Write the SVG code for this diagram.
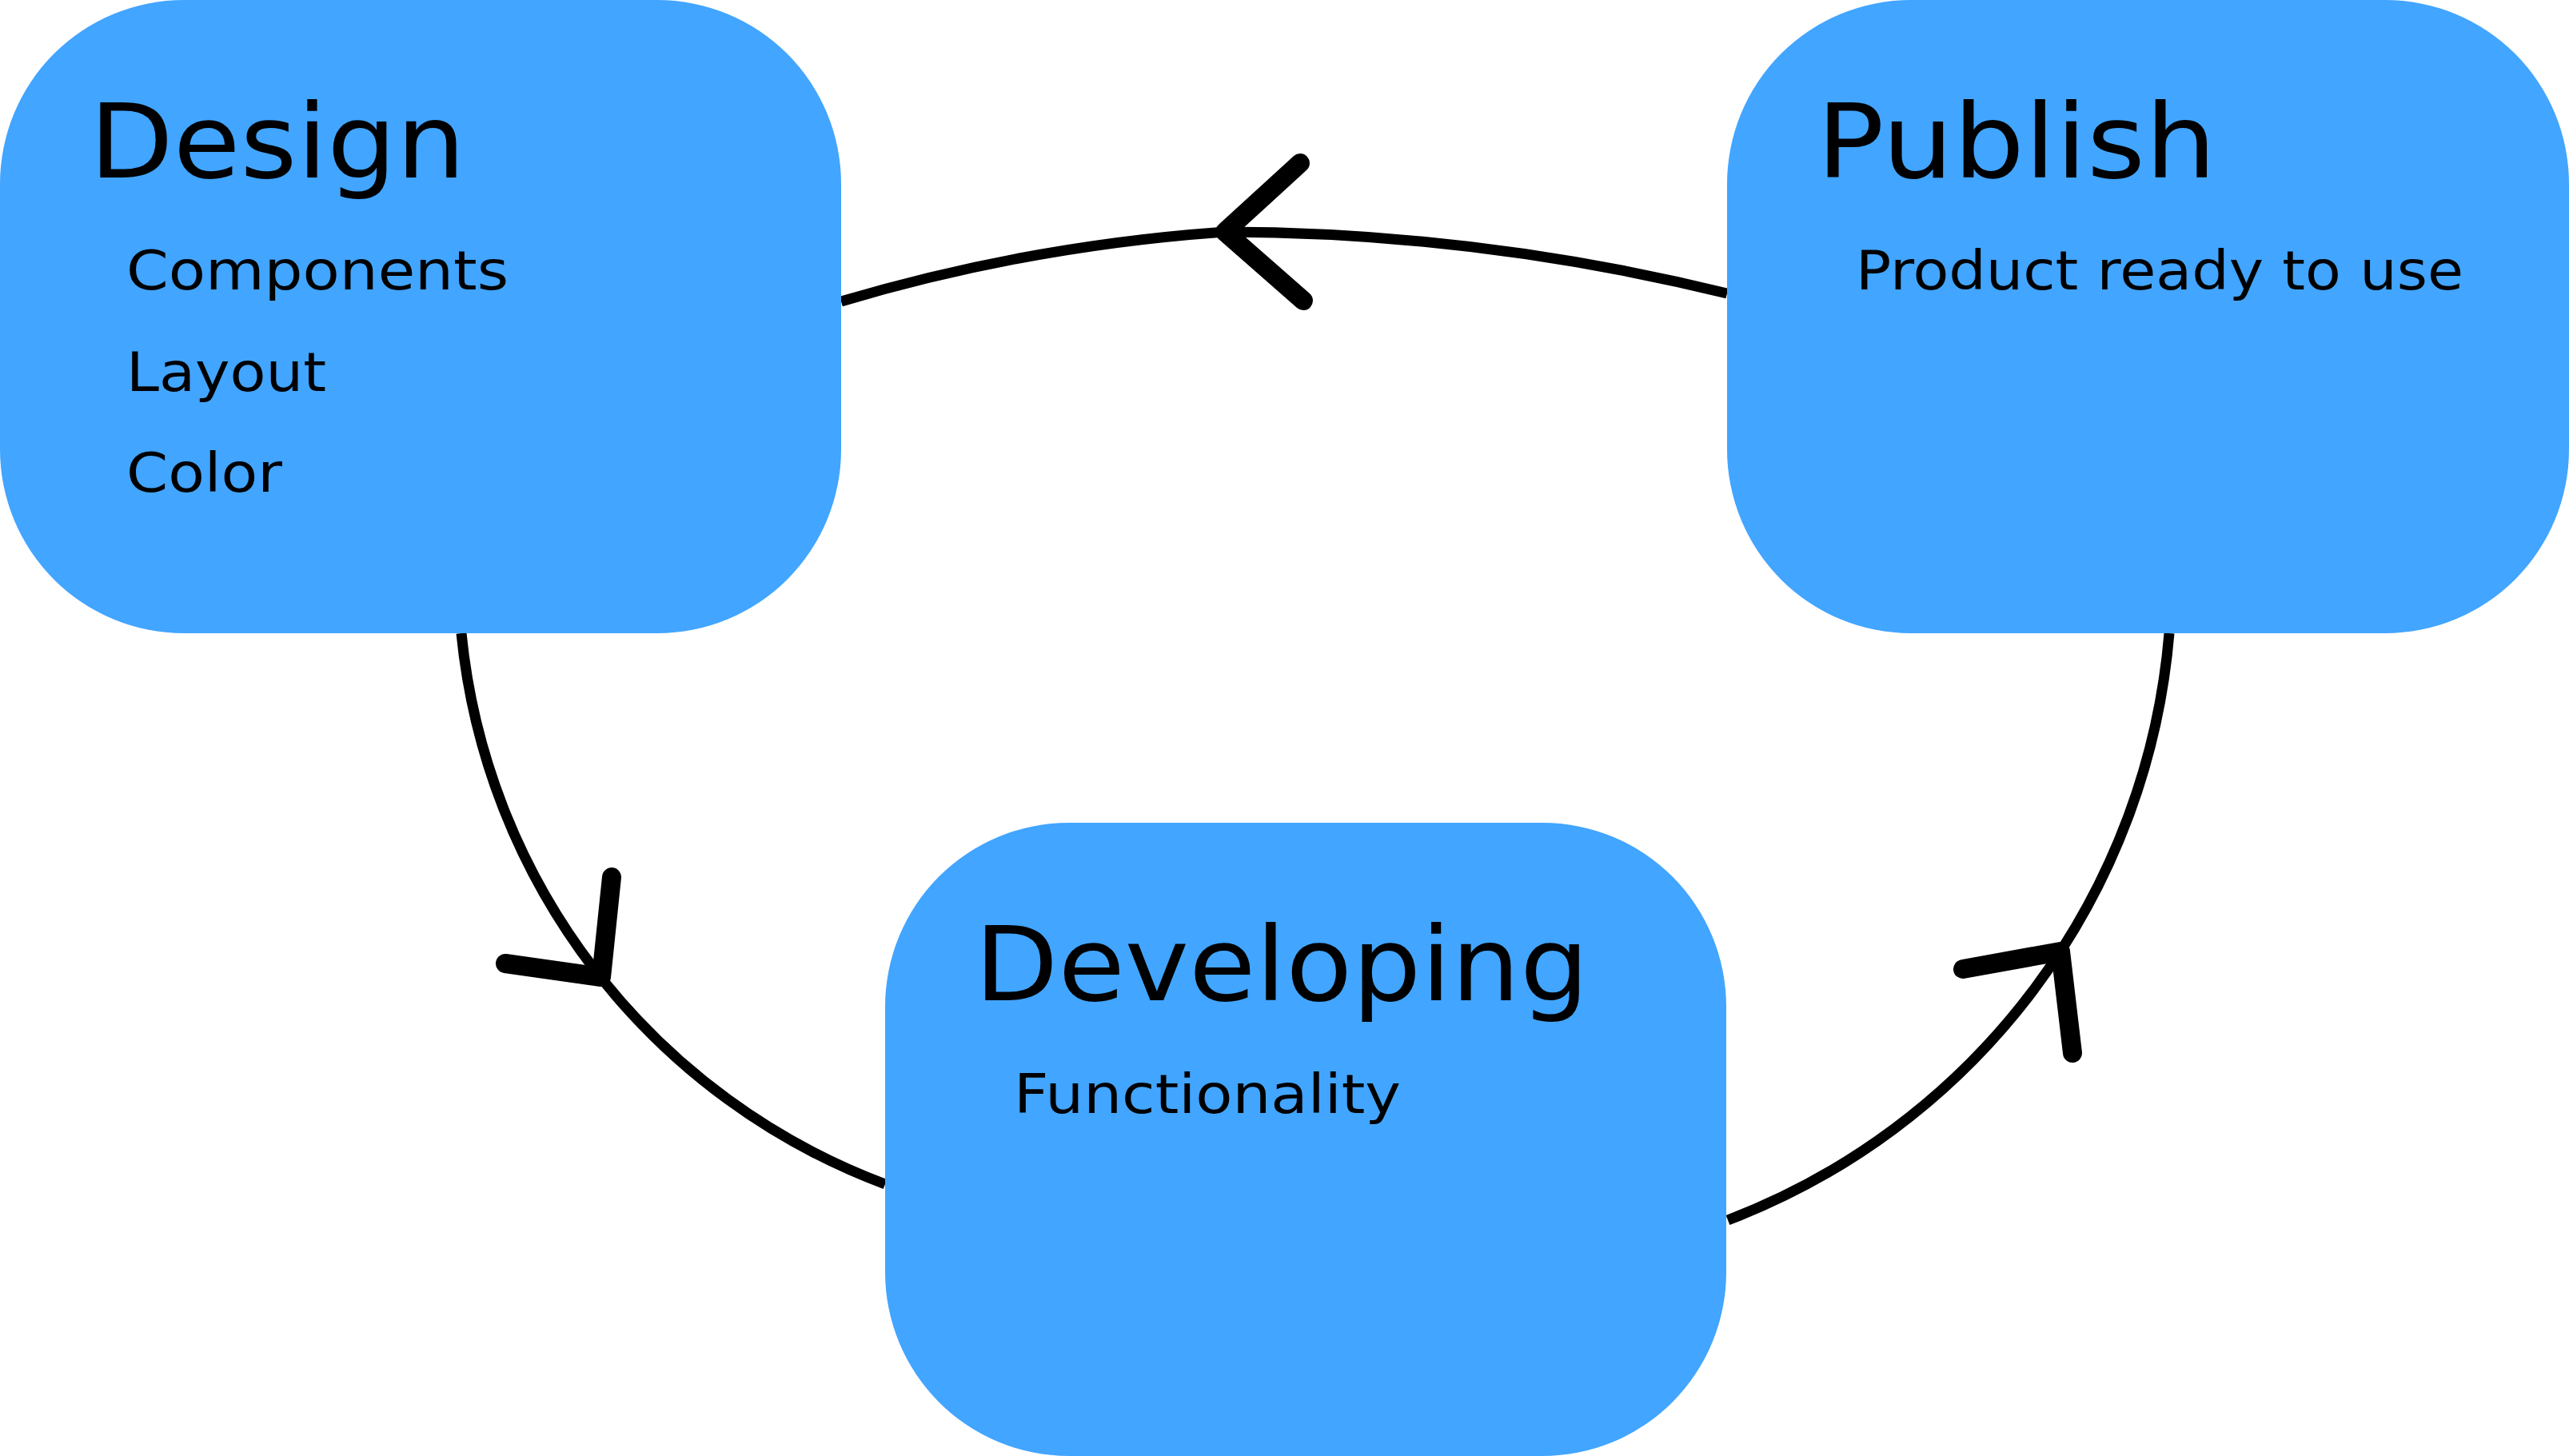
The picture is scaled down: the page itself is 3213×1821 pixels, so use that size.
<svg xmlns="http://www.w3.org/2000/svg" width="3213" height="1821" viewBox="0 0 3213 1821">
<style>
.box{fill:#42a5ff}
.title{font-family:"DejaVu Sans","Noto Sans",sans-serif;font-size:128px;fill:#000}
.item{font-family:"DejaVu Sans","Noto Sans",sans-serif;font-size:68px;fill:#000}
.line{fill:none;stroke:#000;stroke-width:13}
.head{fill:none;stroke:#000;stroke-width:24;stroke-linecap:round;stroke-linejoin:round}
</style>
<rect width="3213" height="1821" fill="#fff"/>
<g id="connectors">
<path class="line" d="M2160,367 A2653,2653 0 0 0 1532,290 A2221,2221 0 0 0 1052,377"/>
<path class="head" d="M1626,204 L1532,290 L1630,376"/>
<path class="line" d="M577,792 A822,822 0 0 0 1107,1481"/>
<path class="head" d="M765,1097 L752,1222 L632,1205"/>
<path class="line" d="M2161,1526 A862,862 0 0 0 2713,792"/>
<path class="head" d="M2455,1212 L2577,1190 L2592,1317"/>
</g>
<g id="design">
<rect class="box" x="0" y="0" width="1052" height="792" rx="230" ry="230"/>
<text class="title" x="112" y="222" textLength="470" lengthAdjust="spacingAndGlyphs">Design</text>
<text class="item" x="158" y="362" textLength="478" lengthAdjust="spacingAndGlyphs">Components</text>
<text class="item" x="158" y="489" textLength="250" lengthAdjust="spacingAndGlyphs">Layout</text>
<text class="item" x="158" y="615" textLength="195" lengthAdjust="spacingAndGlyphs">Color</text>
</g>
<g id="publish">
<rect class="box" x="2160" y="0" width="1053" height="792" rx="230" ry="230"/>
<text class="title" x="2272" y="222" textLength="500" lengthAdjust="spacingAndGlyphs">Publish</text>
<text class="item" x="2321" y="362" textLength="760" lengthAdjust="spacingAndGlyphs">Product ready to use</text>
</g>
<g id="developing">
<rect class="box" x="1107" y="1029" width="1052" height="792" rx="230" ry="230"/>
<text class="title" x="1219" y="1251" textLength="768" lengthAdjust="spacingAndGlyphs">Developing</text>
<text class="item" x="1268" y="1392" textLength="484" lengthAdjust="spacingAndGlyphs">Functionality</text>
</g>
</svg>
